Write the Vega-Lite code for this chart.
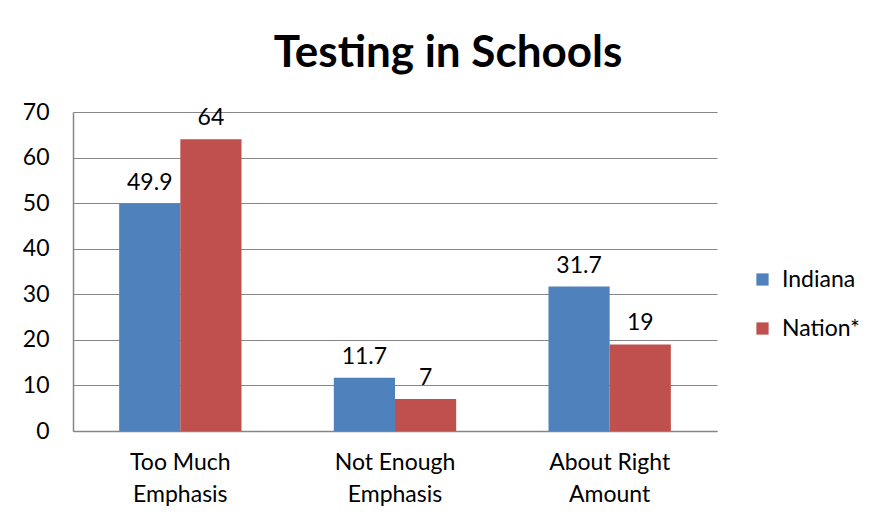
{
  "$schema": "https://vega.github.io/schema/vega-lite/v6.json",
  "autosize": {"type": "none"},
  "padding": {"left": 73, "top": 112, "right": 176, "bottom": 100},
  "width": 644,
  "height": 319,
  "background": "white",
  "title": {
    "text": "Testing in Schools",
    "font": "Lato",
    "fontSize": 44,
    "fontWeight": "bold",
    "color": "black",
    "anchor": "middle",
    "frame": "group",
    "dx": 53,
    "offset": 25
  },
  "data": {
    "values": [
      {"category": "Too Much Emphasis", "group": "Indiana", "value": 49.9},
      {"category": "Too Much Emphasis", "group": "Nation*", "value": 64},
      {"category": "Not Enough Emphasis", "group": "Indiana", "value": 11.7},
      {"category": "Not Enough Emphasis", "group": "Nation*", "value": 7},
      {"category": "About Right Amount", "group": "Indiana", "value": 31.7},
      {"category": "About Right Amount", "group": "Nation*", "value": 19}
    ]
  },
  "encoding": {
    "x": {
      "field": "category",
      "type": "nominal",
      "sort": null,
      "scale": {"paddingInner": 0.43, "paddingOuter": 0.215},
      "axis": {
        "title": null,
        "labelAngle": 0,
        "labelFont": "Lato",
        "labelFontSize": 23,
        "labelColor": "black",
        "labelLineHeight": 32,
        "labelPadding": 20,
        "labelBaseline": "top",
        "ticks": false,
        "domainColor": "#868686",
        "domainWidth": 1.5,
        "labelExpr": "datum.label == 'Too Much Emphasis' ? ['Too Much', 'Emphasis'] : datum.label == 'Not Enough Emphasis' ? ['Not Enough', 'Emphasis'] : ['About Right', 'Amount']"
      }
    },
    "xOffset": {"field": "group", "type": "nominal", "scale": {"paddingInner": 0, "paddingOuter": 0}},
    "y": {
      "field": "value",
      "type": "quantitative",
      "scale": {"domain": [0, 70], "nice": false},
      "axis": {
        "title": null,
        "values": [0, 10, 20, 30, 40, 50, 60, 70],
        "labelFont": "Lato",
        "labelFontSize": 23,
        "labelColor": "black",
        "labelPadding": 24,
        "ticks": false,
        "grid": true,
        "gridColor": "#868686",
        "gridWidth": 1.2,
        "domainColor": "#868686",
        "domainWidth": 1.5
      }
    }
  },
  "layer": [
    {
      "mark": {"type": "bar"},
      "encoding": {
        "color": {
          "field": "group",
          "type": "nominal",
          "scale": {"domain": ["Indiana", "Nation*"], "range": ["#4F81BD", "#C0504D"]},
          "legend": {
            "title": null,
            "orient": "none",
            "legendX": 678,
            "legendY": 156,
            "symbolType": "square",
            "symbolSize": 150,
            "symbolStrokeWidth": 0,
            "labelFont": "Lato",
            "labelFontSize": 23,
            "labelColor": "black",
            "labelOffset": 8,
            "rowPadding": 25
          }
        }
      }
    },
    {
      "mark": {"type": "text", "baseline": "bottom", "dy": -9, "font": "Lato", "fontSize": 23, "color": "black"},
      "encoding": {
        "text": {"field": "value", "type": "quantitative"}
      }
    }
  ],
  "config": {
    "view": {"stroke": null}
  }
}
